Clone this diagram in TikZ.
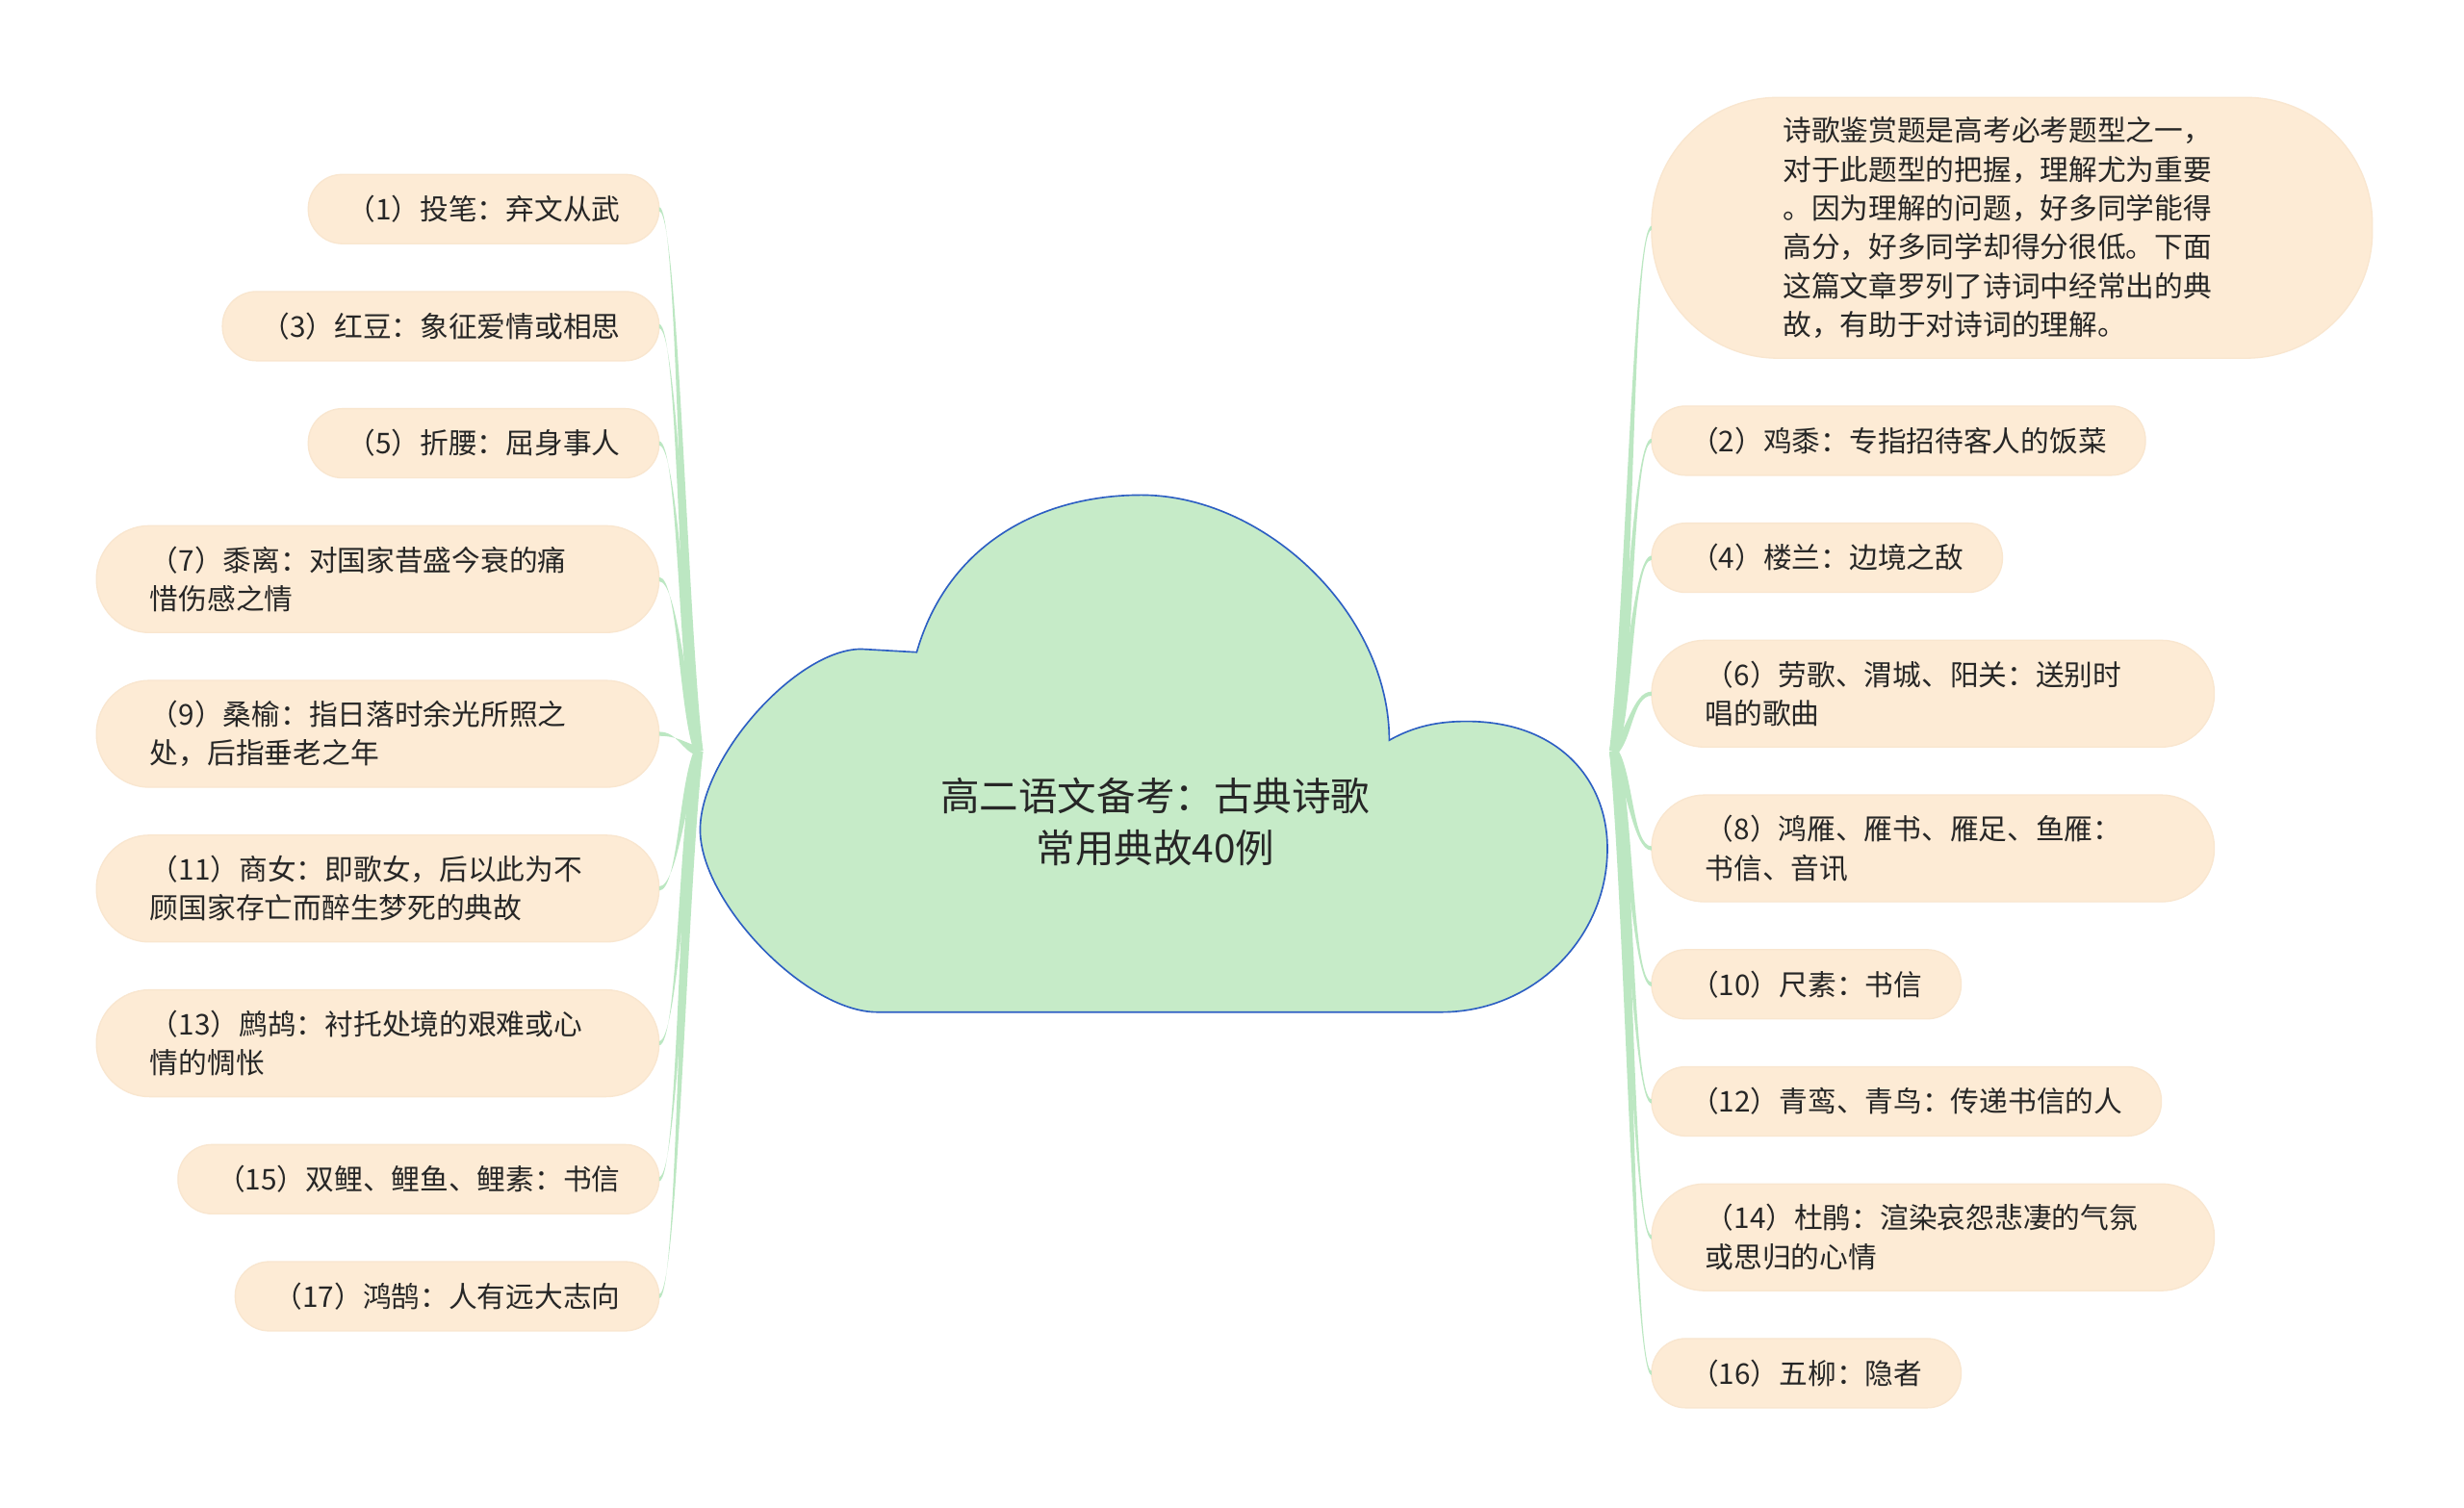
\documentclass[tikz,border=0pt]{standalone}
\usepackage{fontspec}
\newfontfamily\cjk{Noto Sans CJK SC}
\usetikzlibrary{positioning, calc}
\definecolor{leafpeach}{RGB}{253, 235, 213}
\definecolor{leafedge}{RGB}{249, 230, 207}
\definecolor{cloudgreen}{RGB}{198, 235, 200}
\definecolor{cloudblue}{RGB}{45, 95, 195}
\definecolor{twiggreen}{RGB}{188, 231, 194}
\definecolor{inkgray}{RGB}{38, 38, 38}
\tikzset{
    leaf/.style={
        rectangle,
        rounded corners=21.5pt,
        fill=leafpeach,
        draw=leafedge,
        line width=0.8pt,
        outer sep=0pt,
        minimum height=43.8pt,
        inner xsep=24.5pt,
        inner ysep=0pt,
        text=inkgray,
        font=\cjk\fontsize{18.1}{24.6}\selectfont
    },
    leafwide/.style={leaf, minimum height=67.6pt, rounded corners=33.5pt, inner xsep=34pt, text width=288pt, align=left},
    note/.style={leaf, minimum height=165pt, rounded corners=80pt, inner xsep=83pt, text width=290pt, align=left},
    topic/.style={text=inkgray, align=center, font=\cjk\fontsize{24.7}{33}\selectfont},
    cloudline/.style={fill=cloudgreen, draw=cloudblue, line width=1pt},
    twig/.style={fill=twiggreen}
}
% tapered branch: #1 junction, #2 child anchor, #3 side (-1 left, 1 right)
\newcommand\twig[3]{%
    \fill[twig] let \p1=(#1), \p2=(#2),
        \p3=({\x1+(#3)*10pt},{\y1+0.25*(\y2-\y1)}),
        \p4=({\x2-(#3)*12pt},\y2),
        \n1={atan2(\y3-\y1,\x3-\x1)},
        \p5=({-2.8pt*sin(\n1)},{2.8pt*cos(\n1)}) in
        ({\x1+\x5},{\y1+\y5}) .. controls ({\x3+\x5},{\y3+\y5}) and ({\x4},{\y4+1.3pt}) .. ({\x2},{\y2+1.3pt})
        -- ({\x2},{\y2-1.3pt}) .. controls ({\x4},{\y4-1.3pt}) and ({\x3-(\x5)},{\y3-(\y5)}) .. ({\x1-(\x5)},{\y1-(\y5)}) -- cycle;}

\begin{document}
\begin{tikzpicture}[x=1pt, y=-0.9945pt, node distance=30.3pt]

    \fill[white] (0,0) rectangle (1559,959);
    \useasboundingbox (0,0) rectangle (1559,959);

    % Centre cloud
    \draw[cloudline] (580,415) .. controls (600,345) and (660,315) .. (722,315)
        .. controls (800,315) and (879,390) .. (879,471)
        .. controls (895,462) and (910,459) .. (928,459)
        .. controls (985,459) and (1017,495) .. (1017,540)
        .. controls (1017,597) and (970,644) .. (912,644)
        -- (555,644)
        .. controls (510,644) and (443,574) .. (443,528)
        .. controls (443,482) and (504,413) .. (545,413)
        -- cycle;
    \node[topic] (root) at (731,523) {高二语文备考：古典诗歌\\常用典故40例};

    \coordinate (jl) at (442,478);
    \coordinate (jr) at (1021,478);

    % Left column
    \node[leaf, anchor=north east] (l1) at (417,111) {（1）投笔：弃文从武};
    \node[leaf, below=of l1.south east, anchor=north east] (l3) {（3）红豆：象征爱情或相思};
    \node[leaf, below=of l3.south east, anchor=north east] (l5) {（5）折腰：屈身事人};
    \node[leafwide, below=of l5.south east, anchor=north east] (l7) {（7）黍离：对国家昔盛今衰的痛\\惜伤感之情};
    \node[leafwide, below=of l7.south east, anchor=north east] (l9) {（9）桑榆：指日落时余光所照之\\处，后指垂老之年};
    \node[leafwide, below=of l9.south east, anchor=north east] (l11) {（11）商女：即歌女，后以此为不\\顾国家存亡而醉生梦死的典故};
    \node[leafwide, below=of l11.south east, anchor=north east] (l13) {（13）鹧鸪：衬托处境的艰难或心\\情的惆怅};
    \node[leaf, below=of l13.south east, anchor=north east] (l15) {（15）双鲤、鲤鱼、鲤素：书信};
    \node[leaf, below=of l15.south east, anchor=north east] (l17) {（17）鸿鹄：人有远大志向};

    % Right column
    \node[note, anchor=north west] (r0) at (1045,62) {诗歌鉴赏题是高考必考题型之一，\\对于此题型的把握，理解尤为重要\\。因为理解的问题，好多同学能得\\高分，好多同学却得分很低。下面\\这篇文章罗列了诗词中经常出的典\\故，有助于对诗词的理解。};
    \node[leaf, below=of r0.south west, anchor=north west] (r2) {（2）鸡黍：专指招待客人的饭菜};
    \node[leaf, below=of r2.south west, anchor=north west] (r4) {（4）楼兰：边境之敌};
    \node[leafwide, below=of r4.south west, anchor=north west] (r6) {（6）劳歌、渭城、阳关：送别时\\唱的歌曲};
    \node[leafwide, below=of r6.south west, anchor=north west] (r8) {（8）鸿雁、雁书、雁足、鱼雁：\\书信、音讯};
    \node[leaf, below=of r8.south west, anchor=north west] (r10) {（10）尺素：书信};
    \node[leaf, below=of r10.south west, anchor=north west] (r12) {（12）青鸾、青鸟：传递书信的人};
    \node[leafwide, below=of r12.south west, anchor=north west] (r14) {（14）杜鹃：渲染哀怨悲凄的气氛\\或思归的心情};
    \node[leaf, below=of r14.south west, anchor=north west] (r16) {（16）五柳：隐者};

    % Branches
    \foreach \leafname in {l1, l3, l5, l7, l9, l11, l13, l15, l17}
        \twig{jl}{\leafname.east}{-1};
    \foreach \leafname in {r0, r2, r4, r6, r8, r10, r12, r14, r16}
        \twig{jr}{\leafname.west}{1};

\end{tikzpicture}
\end{document}
